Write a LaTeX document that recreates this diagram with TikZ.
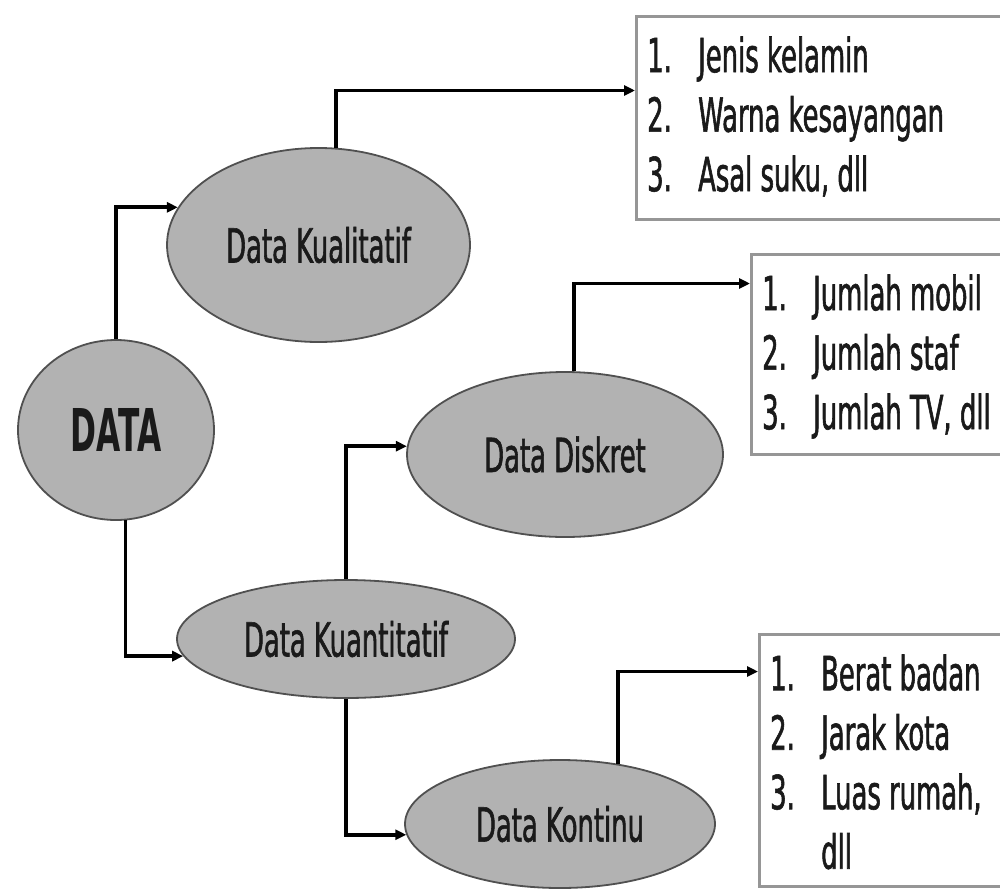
\documentclass[tikz,border=0pt]{standalone}
\usepackage{fontspec}
\newfontfamily\condfont[FakeStretch=0.55,FakeBold=1.2]{DejaVu Sans}
\newfontfamily\condbold[FakeStretch=0.53]{DejaVu Sans Bold}
\usetikzlibrary{shapes.geometric,arrows.meta,calc}
\definecolor{ovalfill}{RGB}{178,178,178}
\definecolor{ovalline}{RGB}{80,80,80}
\definecolor{boxline}{RGB}{150,150,150}
\definecolor{txt}{RGB}{26,26,26}
\newcommand{\lnum}[1]{\makebox[51pt][l]{#1}}
\begin{document}
\begin{tikzpicture}[x=1pt,y=-1pt,
  oval/.style={ellipse, draw=ovalline, fill=ovalfill, line width=1.8pt, inner sep=0pt,
    font=\condfont\fontsize{47}{56}\selectfont, text=txt},
  listbox/.style={rectangle, draw=boxline, fill=white, line width=3pt, anchor=north west,
    inner sep=0pt, minimum width=420pt},
  listtext/.style={anchor=north west, inner sep=0pt, align=left,
    font=\condfont\fontsize{47}{59.5}\selectfont, text=txt},
  conn/.style={draw=black, line width=3.8pt, -{Triangle[length=11pt,width=10pt]}}
]
\useasboundingbox (0,0) rectangle (1000,894);
\fill[white] (0,0) rectangle (1000,894);
\clip (0,0) rectangle (1000,894);

% ovals
\node[oval, minimum width=196pt, minimum height=180pt,
      font=\condbold\fontsize{59}{60}\selectfont] (data) at (116,430) {DATA};
\node[oval, minimum width=303pt, minimum height=194pt] (kual) at (318.5,245) {Data Kualitatif};
\node[oval, minimum width=338pt, minimum height=118pt] (kuan) at (346,639) {Data Kuantitatif};
\node[oval, minimum width=316pt, minimum height=165pt] (disk) at (565,454.5) {Data Diskret};
\node[oval, minimum width=310pt, minimum height=128pt] (kont) at (560,824) {Data Kontinu};

% list boxes
\node[listbox, minimum height=203pt] (b1) at (635,15) {};
\node[listbox, minimum height=200pt] (b2) at (750,253) {};
\node[listbox, minimum height=252pt] (b3) at (758,633) {};

\node[listtext] (t1) at ($(b1.north west)+(12,21.3)$)
  {\lnum{1.}Jenis kelamin\\\lnum{2.}Warna kesayangan\\\lnum{3.}Asal suku, dll};
\node[listtext] (t2) at ($(b2.north west)+(12,21.3)$)
  {\lnum{1.}Jumlah mobil\\\lnum{2.}Jumlah staf\\\lnum{3.}Jumlah TV, dll};
\node[listtext] (t3) at ($(b3.north west)+(12,21.3)$)
  {\lnum{1.}Berat badan\\\lnum{2.}Jarak kota\\\lnum{3.}Luas rumah,\\\lnum{}dll};

% connectors
\draw[conn] (data.north) |- (kual.165);
\draw[conn] (data.-84) |- (kuan.186);
\draw[conn] (kual.80) |- ($(b1.west)+(0,-27.5)$);
\draw[conn] (kuan.north) |- (disk.177);
\draw[conn] (kuan.south) |- (kont.184);
\draw[conn] (disk.84) |- ($(b2.west)+(0,-71)$);
\draw[conn] (kont.46) |- ($(b3.west)+(0,-89)$);
\end{tikzpicture}
\end{document}
